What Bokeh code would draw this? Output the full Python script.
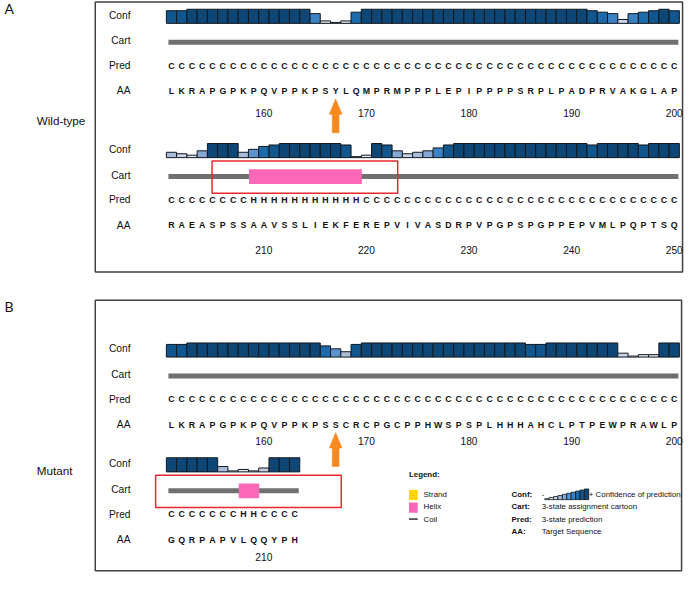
from bokeh.plotting import figure
from bokeh.models import Range1d, ColumnDataSource
from bokeh.core.properties import value
from bokeh.embed import file_html
from bokeh.resources import INLINE

# ---------------- data ----------------
wt1_start = 151
wt1_aa = "LKRAPGPKPQVPPKPSYLQMPRMPPPLEPIPPPPSRPLPADPRVAKGLAP"
wt1_pred = "CCCCCCCCCCCCCCCCCCCCCCCCCCCCCCCCCCCCCCCCCCCCCCCCCC"
wt1_conf = [8, 8, 9, 9, 9, 9, 9, 9, 9, 9, 9, 9, 9, 9, 6, 1, 0, 1, 7, 9,
            9, 9, 9, 9, 9, 9, 9, 9, 9, 9, 9, 9, 9, 9, 9, 9, 9, 9, 9, 9,
            9, 8, 7, 6, 2, 6, 7, 8, 9, 8]

wt2_start = 201
wt2_aa = "RAEASPSSAAVSSLIEKFEREPVIVASDRPVPGPSPGPPEPVMLPQPTSQ"
wt2_pred = "CCCCCCCCHHHHHHHHHHHCCCCCCCCCCCCCCCCCCCCCCCCCCCCCCC"
wt2_conf = [3, 2, 1, 4, 9, 9, 9, 3, 5, 7, 8, 9, 9, 9, 9, 9, 9, 8, 0, 1,
            9, 8, 4, 2, 3, 4, 6, 8, 9, 9, 9, 9, 9, 9, 9, 9, 9, 9, 9, 9,
            9, 8, 9, 9, 9, 9, 8, 9, 9, 9]

mt1_start = 151
mt1_aa = "LKRAPGPKPQVPPKPSSCRCPGCPPHWSPSPLHHHAHCLPTPEWPRAWLP"
mt1_pred = "CCCCCCCCCCCCCCCCCCCCCCCCCCCCCCCCCCCCCCCCCCCCCCCCCC"
mt1_conf = [8, 8, 9, 9, 9, 9, 9, 9, 9, 9, 9, 9, 9, 9, 9, 7, 5, 3, 8, 9,
            9, 9, 9, 9, 9, 9, 9, 9, 9, 9, 9, 9, 9, 9, 9, 8, 8, 9, 9, 9,
            9, 9, 9, 9, 2, 0, 1, 1, 9, 9]

mt2_start = 201
mt2_aa = "GQRPAPVLQQYPH"
mt2_pred = "CCCCCCCHHCCCC"
mt2_conf = [9, 9, 9, 9, 9, 3, 0, 1, 0, 2, 9, 9, 9]

mutation_site = 167
row_names = ["Conf", "Cart", "Pred", "AA"]
legend_ss = ["Strand", "Helix", "Coil"]
legend_keys = ["Conf:", "Cart:", "Pred:", "AA:"]
legend_desc = ["+ Confidence of prediction", "3-state assignment cartoon",
               "3-state prediction", "Target Sequence"]
conf_levels = [0, 1, 2, 3, 4, 5, 6, 7, 8, 9]
conf_palette = ["#ffffff", "#e3e7f0", "#c9d2e4", "#a9bcd9", "#86a8d3",
                "#5f93cb", "#3a82c4", "#1d6aaa", "#12568e", "#0e4676"]

# ---------------- layout ----------------
FONT = "Liberation Sans"
W, H = 684, 575
REF_W, REF_H = 700, 591
X0, DX = 175.0, 10.5          # reference px of column 0, px per residue


def cx(px):
    return (px - X0) / DX


p = figure(width=W, height=H, x_range=Range1d(cx(0), cx(REF_W)),
           y_range=Range1d(REF_H, 0), output_backend="svg",
           toolbar_location=None, min_border=0,
           x_axis_location=None, y_axis_location=None)
p.xgrid.visible = False
p.ygrid.visible = False
p.outline_line_color = None
p.background_fill_color = "white"
p.border_fill_color = "white"


def txt(xs, ys, texts, size, bold=False, align="center", color="#111111", font=FONT):
    src = ColumnDataSource(dict(x=list(xs), y=list(ys), t=list(texts)))
    p.text(x="x", y="y", text="t", source=src, text_font=value(font),
           text_font_size=value(size), text_font_style="bold" if bold else "normal",
           text_align=align, text_baseline="middle", text_color=color)


def helix_runs(pred):
    runs, s = [], None
    for i, ch in enumerate(pred + "C"):
        if ch == "H" and s is None:
            s = i
        elif ch != "H" and s is not None:
            runs.append((s, i - 1))
            s = None
    return runs


def draw_block(aa, pred, conf, start, b, num_y, red_box=False):
    n = len(aa)
    cols = list(range(n))
    base = b + 8.5
    src = ColumnDataSource(dict(
        x=cols,
        top=[base - (1 + c * 1.5) for c in conf],
        bottom=[base] * n,
        color=[conf_palette[c] for c in conf]))
    p.vbar(x="x", width=1, top="top", bottom="bottom", fill_color="color",
           line_color="#101820", line_width=1, source=src)
    cart_y = b + 28
    p.line([-0.3, n - 0.6], [cart_y, cart_y], line_width=5, line_color="#707070")
    runs = helix_runs(pred)
    for s, e in runs:
        p.quad(left=[s - 0.45], right=[e + 0.55], top=[cart_y - 7.5],
               bottom=[cart_y + 7.5], fill_color="#fb68b8", line_color=None)
    if red_box and runs:
        mid = (runs[0][0] + runs[-1][1]) / 2.0
        half = 95 / DX
        p.quad(left=[mid - half], right=[mid + half], top=[cart_y - 16],
               bottom=[cart_y + 17], fill_color=None, line_color="#e8282e",
               line_width=1.5)
    txt(cols, [b + 52] * n, list(pred), "8.8px", bold=True)
    txt(cols, [b + 78] * n, list(aa), "8.8px", bold=True)
    nums = [(i, start + i) for i in cols if (start + i) % 10 == 0]
    txt([i for i, _ in nums], [num_y] * len(nums), [str(r) for _, r in nums], "10.2px")
    txt([cx(133)] * 4, [b, b + 26.5, b + 52, b + 78], row_names, "10.2px", align="right")
    if start <= mutation_site < start + n:
        c = mutation_site - start
        tip = b + 78 + 8
        xs = [c, c + 0.62, c + 0.33, c + 0.33, c - 0.33, c - 0.33, c - 0.62]
        ys = [tip, tip + 16, tip + 16, tip + 35, tip + 35, tip + 16, tip + 16]
        p.patch(xs, ys, fill_color="#f7891f", line_color="#f7891f", line_width=0.5)


# ---- panel frames and titles ----
p.quad(left=[cx(97), cx(97)], right=[cx(698), cx(697)], top=[1.5, 308],
       bottom=[279, 586], fill_color=None, line_color="#404040", line_width=1.5)
txt([cx(4), cx(4)], [8, 315], ["A", "B"], "14px", align="left", font="Lato")
txt([cx(37), cx(37)], [123, 483], ["Wild-type", "Mutant"], "11.7px", align="left")

# ---- panel A (wild-type) ----
draw_block(wt1_aa, wt1_pred, wt1_conf, wt1_start, 15, 116)
draw_block(wt2_aa, wt2_pred, wt2_conf, wt2_start, 153, 256, red_box=True)

# ---- panel B (mutant) ----
draw_block(mt1_aa, mt1_pred, mt1_conf, mt1_start, 358, 453)
draw_block(mt2_aa, mt2_pred, mt2_conf, mt2_start, 476, 572, red_box=True)

# ---- legend ----
LG = 7.9
txt([cx(418)], [487], ["Legend:"], f"{LG}px", bold=True, align="left")
p.quad(left=[cx(418), cx(418)], right=[cx(427), cx(427)], top=[503, 516],
       bottom=[513.5, 526.5], fill_color=["#ffd400", "#fb68b8"], line_color=None)
p.line([cx(418), cx(427)], [533, 533], line_width=1.5, line_color="#333333")
txt([cx(433)] * 3, [508, 520.5, 533], legend_ss, f"{LG}px", align="left")
txt([cx(523)] * 4, [508, 520.5, 533, 546], legend_keys, f"{LG}px", bold=True, align="left")
txt([cx(554)], [508], ["-"], f"{LG}px", align="left")
lw = 4.5 / DX
lx0 = cx(557) + lw / 2
lsrc = ColumnDataSource(dict(
    x=[lx0 + k * lw for k in range(len(conf_levels))],
    top=[513 - (1 + v * 1.1) for v in conf_levels],
    bottom=[513] * len(conf_levels),
    color=[conf_palette[v] for v in conf_levels]))
p.vbar(x="x", width=lw, top="top", bottom="bottom", fill_color="color",
       line_color="#101820", line_width=0.8, source=lsrc)
txt([cx(602)], [508], [legend_desc[0]], f"{LG}px", align="left")
txt([cx(554)] * 3, [520.5, 533, 546], legend_desc[1:], f"{LG}px", align="left")

open("out.html", "w").write(file_html(p, INLINE))
